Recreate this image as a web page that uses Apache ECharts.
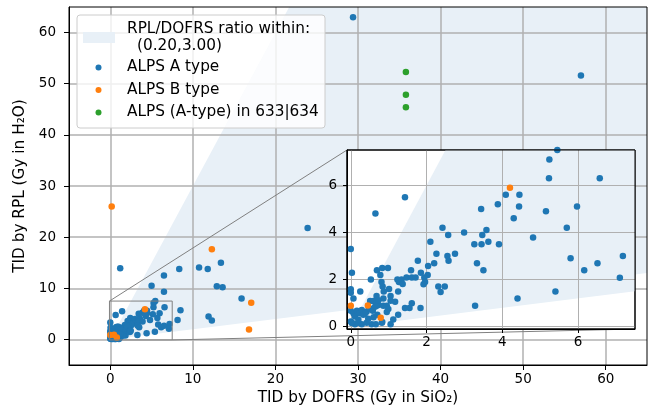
<!DOCTYPE html>
<html><head><meta charset="utf-8">
<script src="https://cdn.jsdelivr.net/npm/echarts@6/dist/echarts.min.js"></script>
<style>html,body{margin:0;padding:0;background:#fff}#c{width:657px;height:418px}</style>
</head><body><div id="c"></div>
<script>
// ---- data (x = TID by DOFRS, y = TID by RPL) ----
const typeA = [
  [29.4,63.0],[57.0,51.6],[23.9,21.8],[1.2,13.9],[6.5,12.5],[5.0,10.5],[6.5,9.3],[8.35,13.75],[10.75,14.05],[11.8,13.75],
  [13.4,15.0],[12.9,10.4],[13.6,10.2],[15.9,8.0],[11.9,4.5],[12.3,3.7],[8.5,5.7],[8.15,3.8],
  [5.45,7.5],[5.24,7.1],[5.23,6.3],[6.57,6.3],[4.09,5.6],[4.45,5.6],[4.44,5.1],[3.88,5.2],[3.44,5.0],[5.97,5.1],[5.15,4.9],[4.3,4.6],
  [1.43,5.49],[0.65,4.8],[5.7,4.2],[4.81,3.79],[2.42,4.2],[2.57,3.89],[2.99,4.0],[3.58,4.1],[3.47,3.89],[3.63,3.6],[3.26,3.5],[3.45,3.5],
  [3.91,3.5],[2.1,3.6],[0.0,3.3],[2.26,3.1],[2.75,3.1],[2.55,3.0],[2.58,2.8],[7.18,3.0],[5.8,2.9],[2.2,2.69],[3.33,2.69],[6.51,2.69],
  [1.77,2.8],[3.5,2.39],[6.16,2.39],[7.1,2.08],[0.03,2.29],[0.69,2.39],[0.83,2.49],[0.98,2.49],[1.59,2.39],[0.78,2.19],[0.53,2.0],
  [0.81,1.9],[0.84,1.7],[1.01,1.6],[0.87,1.49],[1.05,1.3],[1.05,1.1],[1.25,1.49],[1.27,1.9],[1.23,2.0],[1.34,2.0],[1.47,2.09],[1.61,2.09],
  [1.71,2.09],[1.37,1.81],[1.85,2.29],[2.03,2.19],[1.94,2.09],[1.96,1.9],[1.92,1.8],[2.04,2.58],[2.31,1.7],[2.37,1.47],[2.48,1.7],
  [0.25,1.49],[0.0,1.59],[0.0,1.44],[0.07,1.19],[3.28,0.89],[4.4,1.19],[5.4,1.49],[1.84,0.79],[1.61,0.99],[1.55,0.79],[1.43,0.79],
  [1.25,0.5],[1.12,0.3],[1.05,0.1],[0.55,0.1],[0.66,0.1],[0.83,0.2],
  [0.0,0.67],[0.0,0.22],[0.03,0.15],[0.07,0.57],[0.11,0.43],[0.16,0.68],[0.23,0.57],[0.29,0.71],[0.33,0.5],[0.42,0.64],[0.49,0.78],
  [0.58,0.68],[0.64,0.85],[0.73,0.92],[0.51,1.09],[0.6,1.09],[0.68,0.89],[0.86,0.89],[0.95,0.89],[0.99,0.75],[0.95,0.62],[0.7,0.5],
  [0.6,0.4],[0.46,0.34],[0.2,0.17],[0.11,0.1],[0.03,0.17],[0.29,0.1],[0.42,0.17],[0.82,0.17],[0.86,1.2],[0.68,1.3],[0.73,1.12],
  [0.38,0.57],[0.2,0.29],[1.17,1.06]
];
const typeB = [[0.17,26.0],[12.3,17.65],[17.07,7.17],[16.8,1.95],[4.2,5.9],[0.0,0.89],[0.45,0.9],[0.79,0.38]];
const typeAin633 = [[35.8,52.3],[35.8,47.85],[35.8,45.4]];

const ratioLow = 0.2, ratioHigh = 3.0;
const mainRange = [-5, 65];
const insetRange = [-0.1, 7.5];
const mainTicks = [0, 10, 20, 30, 40, 50, 60];
const insetTicks = [0, 2, 4, 6];
const seriesNames = ['ALPS A type', 'ALPS B type', 'ALPS (A-type) in 633|634'];
const bandLabel = ['RPL/DOFRS ratio within:', '(0.20,3.00)'];
const xTitle = 'TID by DOFRS (Gy in SiO\u2082)';
const yTitle = 'TID by RPL (Gy in H\u2082O)';

// ---- styles ----
const C = ['#1f77b4', '#ff7f0e', '#2ca02c'];
const bandColor = '#e8f0f7';
const FONT = 'DejaVu Sans';
const FS_TICK = 13.5;
const FS_TEXT = 15.3;

const chart = echarts.init(document.getElementById('c'), null, {renderer: 'canvas'});

function bandRender(range) {
  return function (params, api) {
    const m = range[1];
    const pts = [[0, 0], [m / ratioHigh, m], [m, m], [m, ratioLow * m]].map(p => api.coord(p));
    return {type: 'polygon', shape: {points: pts}, style: {fill: bandColor}};
  };
}

function axis(kind, idx, range, ticks, isInset) {
  const a = {
    type: 'value', gridIndex: idx, min: range[0], max: range[1],
    splitNumber: isInset ? 4 : 7,
    z: isInset ? 12 : 3,
    axisLine: {show: true, onZero: false, lineStyle: {color: '#000', width: 1}},
    axisTick: {show: true, inside: false, length: isInset ? 4 : 5, customValues: ticks, lineStyle: {color: '#000', width: 1}},
    axisLabel: {customValues: ticks, color: '#000', fontSize: FS_TICK, fontFamily: FONT,
      margin: kind === 'x' ? (isInset ? 6 : 7) : (isInset ? 10 : 13),
      formatter: v => ticks.indexOf(v) >= 0 ? String(v) : ''},
    splitLine: {show: true, lineStyle: {color: '#b0b0b0', width: isInset ? 1 : 1.5}}
  };
  if (!isInset) {
    a.name = kind === 'x' ? xTitle : yTitle;
    a.nameLocation = 'middle';
    a.nameGap = kind === 'x' ? 26 : 34;
    a.nameTextStyle = {color: '#000', fontSize: FS_TEXT, fontFamily: FONT};
  }
  return a;
}

function scatter(name, data, color, idx) {
  return {type: 'scatter', name: name, data: data, xAxisIndex: idx, yAxisIndex: idx,
    symbolSize: 6.5, itemStyle: {color: color, opacity: 1}, z: idx ? 13 : 5, clip: true, silent: true};
}

// legend drawn as graphic
const LX = 77, LY = 15, LW = 248, LH = 113;
const tf = FS_TEXT + 'px "' + FONT + '"';
const legendGraphics = [
  {type: 'rect', shape: {x: LX, y: LY, width: LW, height: LH, r: 3}, style: {fill: 'rgba(255,255,255,0.8)', stroke: '#cccccc', lineWidth: 1}, z: 20},
  {type: 'rect', shape: {x: 83, y: 32, width: 32, height: 11}, style: {fill: bandColor}, z: 21},
  {type: 'text', x: 127, y: 29, style: {text: bandLabel[0], fill: '#000', font: tf, verticalAlign: 'middle'}, z: 21},
  {type: 'text', x: 137, y: 46, style: {text: bandLabel[1], fill: '#000', font: tf, verticalAlign: 'middle'}, z: 21}
];
[67.5, 90, 112.5].forEach((yy, i) => {
  legendGraphics.push({type: 'circle', shape: {cx: 98.5, cy: yy, r: 3}, style: {fill: C[i]}, z: 21});
  legendGraphics.push({type: 'text', x: 127, y: yy, style: {text: seriesNames[i], fill: '#000', font: tf, verticalAlign: 'middle'}, z: 21});
});

chart.setOption({
  animation: false,
  grid: [
    {left: 69, top: 7, width: 578, height: 358, show: true, borderColor: '#000', borderWidth: 1, backgroundColor: 'transparent', z: 4},
    {left: 347, top: 150, width: 288, height: 179, show: true, borderColor: '#000', borderWidth: 1, backgroundColor: '#fff', z: 10}
  ],
  xAxis: [axis('x', 0, mainRange, mainTicks, false), axis('x', 1, insetRange, insetTicks, true)],
  yAxis: [axis('y', 0, mainRange, mainTicks, false), axis('y', 1, insetRange, insetTicks, true)],
  series: [
    {type: 'custom', coordinateSystem: 'cartesian2d', xAxisIndex: 0, yAxisIndex: 0, data: [[0, 0]], renderItem: bandRender(mainRange), z: 1, silent: true},
    {type: 'custom', coordinateSystem: 'cartesian2d', xAxisIndex: 1, yAxisIndex: 1, data: [[0, 0]], renderItem: bandRender(insetRange), z: 11, silent: true},
    {type: 'custom', coordinateSystem: 'cartesian2d', xAxisIndex: 0, yAxisIndex: 0, data: [[0, 0]], z: 6, silent: true,
      renderItem: function (params, api) {
        const p0 = api.coord([insetRange[0], insetRange[1]]);
        const p1 = api.coord([insetRange[1], insetRange[0]]);
        return {type: 'rect', shape: {x: p0[0], y: p0[1], width: p1[0] - p0[0], height: p1[1] - p0[1]},
          style: {fill: 'none', stroke: '#808080', lineWidth: 1}};
      }},
    scatter(seriesNames[0], typeA, C[0], 0),
    scatter(seriesNames[1], typeB, C[1], 0),
    scatter(seriesNames[2], typeAin633, C[2], 0),
    scatter(seriesNames[0], typeA, C[0], 1),
    scatter(seriesNames[1], typeB, C[1], 1),
    scatter(seriesNames[2], typeAin633, C[2], 1)
  ],
  graphic: legendGraphics
});

// connector lines and inset border from the library's own scales
const tl = chart.convertToPixel({gridIndex: 0}, [insetRange[0], insetRange[1]]);
const br = chart.convertToPixel({gridIndex: 0}, [insetRange[1], insetRange[0]]);
const itl = chart.convertToPixel({gridIndex: 1}, [insetRange[0], insetRange[1]]);
const ibr = chart.convertToPixel({gridIndex: 1}, [insetRange[1], insetRange[0]]);
chart.setOption({
  graphic: legendGraphics.concat([
    {type: 'line', shape: {x1: tl[0], y1: tl[1], x2: itl[0], y2: itl[1]}, style: {stroke: '#808080', lineWidth: 1}, z: 9},
    {type: 'line', shape: {x1: br[0], y1: br[1], x2: ibr[0], y2: ibr[1]}, style: {stroke: '#808080', lineWidth: 1}, z: 9},
    {type: 'rect', shape: {x: itl[0], y: itl[1], width: ibr[0] - itl[0], height: ibr[1] - itl[1]}, style: {fill: 'none', stroke: '#000', lineWidth: 1}, z: 30}
  ])
});
</script></body></html>
